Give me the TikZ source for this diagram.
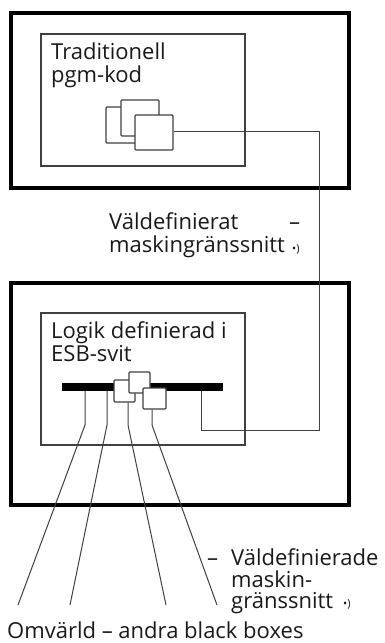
\documentclass[tikz,border=0pt]{standalone}
\usepackage{fontspec}
\setmainfont{Open Sans}
\begin{document}
\begin{tikzpicture}[x=1pt,y=-1pt,
  outerbox/.style={draw=black,line width=3.8pt},
  innerbox/.style={draw=black!75,line width=1.2pt},
  modbox/.style={draw=black!75,fill=white,line width=1.2pt,rounded corners=1pt,inner sep=0pt},
  wire/.style={draw=black!75,line width=1pt},
  lbl/.style={anchor=base west,inner sep=0pt,text=black!90,font=\fontsize{22}{22}\selectfont},
  note/.style={anchor=base west,inner sep=0pt,text=black!90,font=\fontsize{11}{11}\selectfont}]
\useasboundingbox (0,0) rectangle (385,643);

% upper system: traditional program code
\draw[outerbox] (11,13) rectangle (349,188);
\draw[innerbox] (41,34) rectangle (245,166);
\node[lbl] (t1) at (51,59) {Traditionell};
\node[lbl] (t2) at (51,82) {pgm-kod};
\node[modbox,minimum width=38pt,minimum height=36pt] (ta) at (125,125) {};
\node[modbox,minimum width=38pt,minimum height=36pt] (tb) at (140,118) {};
\node[modbox,minimum width=38pt,minimum height=35pt] (tc) at (154,132.5) {};

% lower system: logic in the ESB suite
\draw[outerbox] (11,283) rectangle (349,505);
\draw[innerbox] (41,313) rectangle (245,445);
\node[lbl] (l1) at (51,338) {Logik definierad i};
\node[lbl] (l2) at (51,361) {ESB-svit};
\node[fill=black,minimum width=161pt,minimum height=8pt,inner sep=0pt] (bar) at (142.5,387) {};
\node[modbox,minimum width=21pt,minimum height=22pt] (b1) at (124.5,391) {};
\node[modbox,minimum width=21pt,minimum height=21pt] (b2) at (139.5,382.5) {};
\node[modbox,minimum width=23pt,minimum height=21pt] (b3) at (154.5,398.5) {};

% machine interface between the two systems
\coordinate (rt) at (319,131);
\coordinate (rb) at (319,430);
\coordinate (lb) at (201,430);
\draw[wire] (tc.east |- rt) -- (rt) -- (rb) -- (lb) -- (lb |- bar.south);

% links to the surroundings
\coordinate (k1) at (85,425);  \coordinate (e1) at (18,605);
\coordinate (k2) at (107,425); \coordinate (e2) at (70,605);
\coordinate (k3) at (128,425); \coordinate (e3) at (166,605);
\coordinate (k4) at (152,425); \coordinate (e4) at (217,605);
\draw[wire] (k1 |- bar.south) -- (k1) -- (e1);
\draw[wire] (k2 |- bar.south) -- (k2) -- (e2);
\draw[wire] (k3 |- b1.south) -- (k3) -- (e3);
\draw[wire] (k4 |- b3.south) -- (k4) -- (e4);

% labels
\node[lbl] (m1) at (109,229) {Väldefinierat};
\node[lbl] (m2) at (109,252) {maskingränssnitt};
\node[lbl] (m3) at (289,229) {–};
\node[note] (m4) at (292,252) {•)};

\node[lbl] (n0) at (207,565) {–};
\node[lbl] (n1) at (231,565) {Väldefinierade};
\node[lbl] (n2) at (231,587) {maskin-};
\node[lbl] (n3) at (231,608) {gränssnitt};
\node[note] (n4) at (343,607) {•)};

\node[lbl] (o1) at (7,638) {Omvärld – andra black boxes};
\end{tikzpicture}
\end{document}
